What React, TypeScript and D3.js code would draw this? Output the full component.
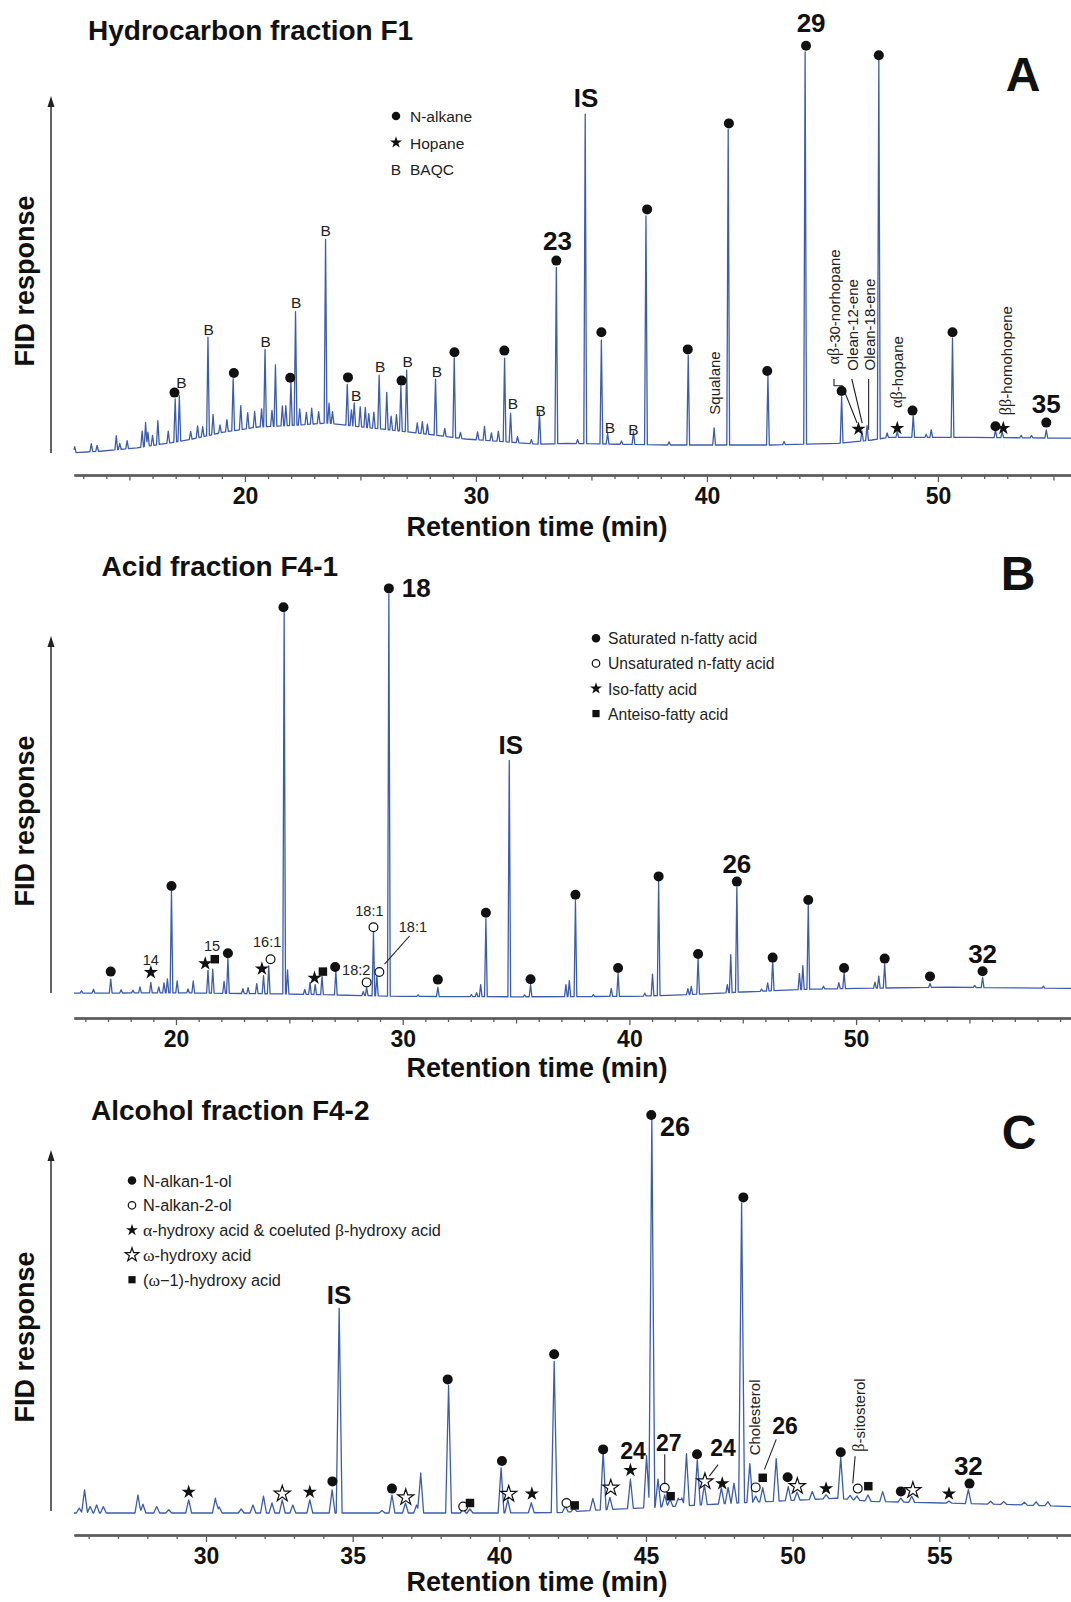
import React, { useEffect, useRef } from "react";
import * as d3 from "d3";

const W = 1071;
const H = 1602;
const SANS = "'Liberation Sans', Arial, Helvetica, sans-serif";
const SERIF = "'Liberation Serif', 'Times New Roman', serif";
const TRACE = "#3d5cab";
const AXIS = "#5c5c5c";

// ---------- A: hydrocarbon fraction F1 ----------
const aPeakTimes = [12.63, 13.35, 13.6, 14.43, 14.58, 14.9, 15.55, 15.7, 15.8, 16.0, 16.23, 16.68, 16.98, 17.16, 17.65, 17.95, 18.17, 18.4, 18.62, 18.92, 19.22, 19.49, 19.82, 20.12, 20.42, 20.72, 20.87, 21.17, 21.32, 21.62, 21.77, 21.99, 22.19, 22.37, 22.66, 22.89, 23.19, 23.49, 23.64, 23.79, 24.43, 24.61, 24.73, 24.99, 25.21, 25.36, 25.58, 25.81, 26.14, 26.33, 26.56, 26.75, 27.0, 27.46, 27.68, 27.9, 28.25, 28.65, 29.06, 29.33, 30.07, 30.37, 30.67, 30.97, 31.24, 31.5, 31.8, 32.4, 32.75, 33.48, 34.4, 34.73, 35.43, 35.7, 36.3, 36.82, 37.36, 38.36, 39.19, 40.31, 40.92, 42.64, 43.34, 44.25, 45.83, 46.71, 46.93, 47.44, 47.8, 48.24, 48.93, 49.49, 49.71, 50.63, 52.49, 52.78, 53.6, 54.05, 54.69];
const aPeakHeights = [1.5, 2, 1.5, 3.5, 1.5, 2, 4, 6, 3.5, 2.5, 6, 3, 10.8, 11.4, 2, 3, 2.5, 24.6, 5, 2, 3, 13, 6, 4, 4, 4.5, 19.3, 4, 15.3, 5, 5, 10.8, 28.4, 4, 3, 4, 3, 45.9, 5, 3, 10.2, 4, 5.8, 5, 5, 3.5, 4, 13.4, 9.3, 3.5, 4, 11.3, 15.4, 2.5, 3, 2.5, 14, 2, 19.9, 1.5, 2, 3.5, 2, 2.5, 20.9, 7.25, 1.5, 1, 7.9, 44.1, 1, 82.4, 26, 2.7, 0.8, 3.2, 57.2, 0.8, 22.4, 4.3, 78.9, 17.2, 0.8, 98.1, 11.6, 2.5, 3.7, 95, 1.2, 1.5, 5.4, 0.8, 1.9, 24.8, 2, 1.5, 0.6, 0.6, 2];
const aBaseTimes = [12.56, 13.83, 15.33, 16.83, 17.72, 19.07, 20.57, 22.07, 23.56, 25.06, 26.56, 28.05, 29.55, 31.05, 32.69, 33.97, 38.36, 42.75, 45.68, 47.14, 47.88, 51.54, 55.8];
const aBaseLevels = [0.55, 1.0, 1.8, 3.1, 4.0, 5.7, 7.0, 7.4, 8.0, 7.0, 6.1, 5.1, 4.0, 3.4, 2.7, 2.9, 2.5, 2.5, 2.9, 3.75, 4.4, 4.4, 4.2];
const aDots = [[16.95, 15.6], [19.52, 20.5], [21.96, 19.3], [24.46, 19.4], [26.78, 18.6], [29.07, 25.7], [31.23, 26.1], [33.48, 48.6], [35.43, 30.7], [37.41, 61.4], [39.17, 26.4], [40.95, 82.9], [42.61, 21], [44.29, 102.3], [45.83, 16], [47.44, 99.95], [48.9, 11.1], [50.63, 30.7], [52.49, 7.2], [54.69, 8.1]];
const aStars = [[46.56, 6.5], [48.24, 6.7], [52.83, 6.7]];
const aBaqc = [[17.25, 18.2], [18.43, 31.3], [20.9, 28.3], [22.22, 38.25], [23.49, 56.1], [24.81, 14.9], [25.85, 22.1], [27.04, 23.5], [28.31, 20.95], [31.6, 12.8], [32.8, 11.2], [35.8, 7], [36.82, 6.3]];
const aNumbers = [["23", 33.53, 53.4, 26], ["IS", 34.77, 89.2, 26], ["29", 44.51, 107.9, 26], ["35", 54.69, 12.8, 26]];
const aNames = [["Squalane", 40.31, 18], ["αβ-30-norhopane", 45.5, 37], ["Olean-12-ene", 46.27, 32.5], ["Olean-18-ene", 47.0, 32.6], ["αβ-hopane", 48.24, 20.75], ["ββ-homohopene", 52.93, 23.6]];
const aLeaders = [[[45.5, 19], [45.5, 17.3], [45.86, 17.3], [46.5, 8]], [[46.27, 19], [46.72, 8]], [[47.0, 19], [47.0, 6.3]]];
const aLegend = [["dot", "N-alkane"], ["star", "Hopane"], ["B", "BAQC"]];
const aTicks = [20, 30, 40, 50];

// ---------- B: acid fraction F4-1 ----------
const bPeakTimes = [15.83, 16.36, 17.12, 17.58, 18.1, 18.41, 18.89, 19.24, 19.47, 19.62, 19.8, 20.05, 20.53, 20.76, 21.41, 21.62, 22.12, 22.29, 22.95, 23.18, 23.56, 23.86, 24.09, 24.77, 24.92, 25.68, 25.91, 26.14, 26.44, 27.05, 28.26, 28.41, 28.71, 28.86, 29.39, 30.68, 31.55, 33.03, 33.26, 33.44, 33.67, 34.7, 35.38, 35.64, 37.2, 37.35, 37.62, 38.41, 39.2, 39.5, 40.68, 41.02, 41.29, 42.58, 42.73, 43.03, 44.32, 44.47, 44.74, 45.83, 46.1, 46.32, 47.5, 47.65, 47.89, 48.56, 49.24, 49.47, 50.83, 51.0, 51.26, 53.26, 55.23, 55.58, 58.26];
const bPeakHeights = [0.6, 1, 3.5, 0.8, 0.7, 1.5, 2.6, 1.5, 2.5, 3.5, 25.4, 3, 1, 3, 5.7, 6, 3, 8.7, 1.2, 1.5, 2.5, 4.5, 7, 95.3, 6, 1.2, 3, 2.5, 4.6, 6, 1, 2, 16, 5, 100.4, 0.4, 2.3, 0.5, 1, 3, 19.5, 59.1, 0.5, 3, 3, 4, 24, 0.5, 2, 5.8, 0.7, 5.4, 28.6, 1.5, 2, 8.9, 2, 9.5, 26.3, 0.5, 2, 7.6, 4, 6, 21, 0.7, 1.5, 4, 1.5, 3, 6, 1, 0.5, 2.5, 0.5];
const bBaseTimes = [15.5, 20, 25, 30, 35, 40, 42, 45, 48, 50, 54, 59.5];
const bBaseLevels = [1.2, 1.3, 1.0, 0.4, 0.3, 0.4, 0.7, 1.5, 2.2, 2.4, 2.7, 2.4];
const bDots = [[17.12, 6.6], [19.8, 28], [22.29, 11.2], [24.74, 97.7], [27.02, 7.75], [29.39, 102.4], [31.55, 4.6], [33.67, 21.3], [35.64, 4.7], [37.62, 25.8], [39.5, 7.5], [41.29, 30.4], [43.03, 11], [44.74, 29.1], [46.32, 10.1], [47.89, 24.5], [49.47, 7.5], [51.26, 9.85], [53.26, 5.4], [55.58, 6.7]];
const bOpen = [[24.17, 9.7], [28.41, 3.9], [28.71, 17.7], [28.97, 6.5]];
const bStars = [[18.89, 6.4], [21.29, 8.6], [23.79, 7.3], [26.11, 5]];
const bSquares = [[21.71, 9.7], [26.48, 6.6]];
const bSmallLabels = [["14", 18.89, 9.5], ["15", 21.59, 13.1], ["16:1", 24.02, 13.95], ["18:1", 28.53, 21.7], ["18:1", 30.45, 17.65], ["18:2", 27.95, 6.9]];
const bLeaders = [[[30.3, 15.5], [29.2, 8.45]]];
const bNumbers = [["18", 30.6, 102.4, 26], ["IS", 34.77, 63.3, 26], ["26", 44.74, 33.4, 26], ["32", 55.58, 11, 26]];
const bLegend = [["dot", "Saturated n-fatty acid"], ["open", "Unsaturated n-fatty acid"], ["star", "Iso-fatty acid"], ["square", "Anteiso-fatty acid"]];
const bTicks = [20, 30, 40, 50];

// ---------- C: alcohol fraction F4-2 ----------
const cPeakTimes = [25.68, 25.86, 26.05, 26.27, 26.5, 27.68, 27.85, 28.32, 28.73, 29.41, 30.32, 30.45, 31.2, 31.6, 31.96, 32.25, 32.6, 32.96, 33.54, 34.3, 34.54, 36.0, 36.34, 36.8, 37.18, 37.32, 38.27, 38.77, 39.0, 40.06, 40.29, 41.09, 41.87, 42.25, 42.54, 43.19, 43.54, 43.77, 44.47, 45.02, 45.2, 45.41, 45.64, 45.82, 46.1, 46.22, 46.38, 46.75, 46.99, 47.57, 47.8, 48.0, 48.26, 48.54, 48.74, 48.98, 49.44, 49.85, 50.15, 50.67, 51.14, 51.64, 51.96, 52.19, 52.57, 53.07, 53.69, 54.06, 55.33, 55.99, 56.75, 57.2, 57.9, 58.3, 58.7];
const cPeakHeights = [1.2, 5.8, 1.6, 2, 1.6, 4.5, 2.2, 1.6, 0.8, 3.3, 3.7, 1.5, 1, 2, 4.2, 2.5, 3.3, 2, 3.3, 5.8, 51.2, 0.6, 4.5, 2.5, 2, 10, 31.9, 1, 1, 11.3, 3.3, 2.5, 37.8, 1.5, 0.8, 3, 14.5, 3, 7.3, 13, 97, 7, 3, 1.8, 2, 2, 13, 11.3, 5, 4, 4, 5, 75, 9.7, 1.5, 3.5, 10.6, 3.5, 2, 2, 1, 10.2, 1, 1, 1.5, 2.5, 1, 1.5, 0.5, 3.5, 0.7, 0.7, 0.7, 0.9, 1];
const cBaseTimes = [25.5, 30, 35, 40, 42, 43.5, 45.8, 48.1, 50.4, 51.5, 52.7, 55.1, 57.5, 59.5];
const cBaseLevels = [0.5, 0.5, 0.5, 0.5, 0.6, 1.3, 2.1, 3.0, 3.8, 4.2, 3.4, 3.0, 2.6, 2.1];
const cDots = [[34.31, 8.4], [36.34, 6.6], [38.24, 33.9], [40.09, 13.5], [41.87, 40.2], [43.54, 16.4], [45.18, 100], [46.74, 15.2], [48.32, 79.4], [49.83, 9.45], [51.64, 15.7], [53.69, 5.9], [56.03, 7.85]];
const cOpen = [[38.77, 2.1], [42.29, 3.0], [45.64, 6.8], [48.74, 6.9], [52.22, 6.6]];
const cStars = [[29.41, 5.75], [33.54, 5.75], [41.11, 5.3], [44.47, 11.2], [47.6, 7.85], [51.14, 6.6], [55.33, 5.3]];
const cOpenStars = [[32.6, 5.3], [36.81, 4.4], [40.32, 5.25], [43.8, 6.8], [47.01, 8.4], [50.16, 7.2], [54.1, 6.2]];
const cSquares = [[39.0, 3.0], [42.57, 2.4], [45.84, 4.7], [48.98, 9.3], [52.58, 7.2]];
const cNumbers = [["IS", 34.54, 55, 26], ["26", 45.99, 97, 27], ["24", 44.56, 16, 23], ["27", 45.78, 18.1, 23], ["24", 47.63, 16.8, 23], ["26", 49.74, 22.3, 23], ["32", 55.99, 12.2, 26]];
const cNames = [["Cholesterol", 48.68, 24.4], ["β-sitosterol", 52.25, 25]];
const cLeaders = [[[45.64, 15.2], [45.64, 8.0]], [[47.46, 12.6], [47.16, 9.7]], [[49.44, 18.9], [49.04, 11.4]], [[52.13, 14.7], [52.05, 7.9]]];
const cLegend = [["dot", "N-alkan-1-ol"], ["open", "N-alkan-2-ol"], ["star", "α-hydroxy acid & coeluted β-hydroxy acid"], ["openStar", "ω-hydroxy acid"], ["square", "(ω−1)-hydroxy acid"]];
const cTicks = [30, 35, 40, 45, 50, 55];

const panels = [
  {
    title: "Hydrocarbon fraction F1", titleX: 88, titleY: 30, letter: "A", letterX: 1023, letterY: 74,
    xDomain: [12.6, 55.76], zeroY: 455, axisY: 475, arrowTop: 96, arrowBottom: 453, fidY: 281, xTitleY: 527,
    ticks: aTicks, midTicks: [15, 25, 35, 45, 55], w: 0.06,
    peakT: aPeakTimes, peakH: aPeakHeights, baseT: aBaseTimes, baseV: aBaseLevels,
    marks: [["dot", aDots], ["star", aStars], ["B", aBaqc]],
    numbers: aNumbers, names: aNames, leaders: aLeaders, small: [],
    legend: aLegend, legendX: 396, legendTextX: 410, legendY: 116, legendStep: 26.5, legendFont: 15.5,
  },
  {
    title: "Acid fraction F4-1", titleX: 101.6, titleY: 566, letter: "B", letterX: 1018, letterY: 573,
    xDomain: [15.5, 59.48], zeroY: 998, axisY: 1018, arrowTop: 636, arrowBottom: 993, fidY: 821, xTitleY: 1068,
    ticks: bTicks, midTicks: [25, 35, 45, 55], w: 0.06,
    peakT: bPeakTimes, peakH: bPeakHeights, baseT: bBaseTimes, baseV: bBaseLevels,
    marks: [["dot", bDots], ["open", bOpen], ["star", bStars], ["square", bSquares]],
    numbers: bNumbers, names: [], leaders: bLeaders, small: bSmallLabels,
    legend: bLegend, legendX: 596, legendTextX: 608, legendY: 638.3, legendStep: 25.1, legendFont: 15.7,
  },
  {
    title: "Alcohol fraction F4-2", titleX: 91, titleY: 1110, letter: "C", letterX: 1019, letterY: 1132,
    xDomain: [25.5, 59.49], zeroY: 1515, axisY: 1535, arrowTop: 1150, arrowBottom: 1511, fidY: 1337, xTitleY: 1582,
    ticks: cTicks, midTicks: [], w: 0.1,
    peakT: cPeakTimes, peakH: cPeakHeights, baseT: cBaseTimes, baseV: cBaseLevels,
    marks: [["dot", cDots], ["open", cOpen], ["star", cStars], ["openStar", cOpenStars], ["square", cSquares]],
    numbers: cNumbers, names: cNames, leaders: cLeaders, small: [],
    legend: cLegend, legendX: 132, legendTextX: 143, legendY: 1180.5, legendStep: 24.8, legendFont: 16.3,
  },
];

// baseline + triangular peaks, evaluated at every breakpoint
function peakTrace(times: number[], heights: number[], baseT: number[], baseV: number[], w: number, lo: number, hi: number) {
  const base = d3.scaleLinear().domain(baseT).range(baseV).clamp(true);
  const keys = [lo, hi, ...baseT];
  times.forEach((t) => keys.push(t - w, t, t + w));
  const ts = Array.from(new Set(keys)).filter((t) => t >= lo && t <= hi).sort((a, b) => a - b);
  return ts.map((t) => [t, base(t) + d3.sum(times, (p, i) => heights[i] * Math.max(0, 1 - Math.abs(t - p) / w))]);
}

function richText(sel: any, str: string, size: number) {
  str.split(/([αβω]+)/).filter((s) => s).forEach((s) => {
    const greek = /[αβω]/.test(s);
    sel.append("tspan")
      .attr("font-family", greek ? SERIF : SANS)
      .attr("font-size", greek ? size * 1.08 : size)
      .text(s);
  });
}

function drawMark(g: any, kind: string, cx: number, cy: number, legend = false) {
  const k = legend ? 0.85 : 1;
  if (kind === "dot") {
    g.append("circle").attr("cx", cx).attr("cy", cy).attr("r", 5 * k).attr("fill", "#111");
  } else if (kind === "open") {
    g.append("circle").attr("cx", cx).attr("cy", cy).attr("r", 4.4 * k).attr("fill", "#fff").attr("stroke", "#111").attr("stroke-width", 1.2);
  } else if (kind === "star") {
    g.append("path").attr("d", d3.symbol(d3.symbolStar, 62 * k * k)()).attr("transform", `translate(${cx},${cy})`).attr("fill", "#111");
  } else if (kind === "openStar") {
    g.append("path").attr("d", d3.symbol(d3.symbolStar, 80 * k * k)()).attr("transform", `translate(${cx},${cy})`)
      .attr("fill", "#fff").attr("stroke", "#111").attr("stroke-width", 1.2);
  } else if (kind === "square") {
    g.append("path").attr("d", d3.symbol(d3.symbolSquare, 72 * k * k)()).attr("transform", `translate(${cx},${cy})`).attr("fill", "#111");
  } else if (kind === "B") {
    g.append("text").attr("x", cx).attr("y", cy).attr("text-anchor", "middle").attr("dominant-baseline", "central")
      .attr("font-family", SANS).attr("font-size", 15.5).attr("fill", "#222").text("B");
  }
}

function drawPanel(svg: any, p: any) {
  const x = d3.scaleLinear().domain(p.xDomain).range([74, W]);
  const y = d3.scaleLinear().domain([0, 100]).range([p.zeroY, p.zeroY - 400]);
  const g = svg.append("g");

  // title and panel letter
  g.append("text").attr("x", p.titleX).attr("y", p.titleY).attr("dominant-baseline", "central")
    .attr("font-family", SANS).attr("font-weight", "bold").attr("font-size", 28).attr("fill", "#111").text(p.title);
  g.append("text").attr("x", p.letterX).attr("y", p.letterY).attr("text-anchor", "middle").attr("dominant-baseline", "central")
    .attr("font-family", SANS).attr("font-weight", "bold").attr("font-size", 48).attr("fill", "#111").text(p.letter);

  // y arrow
  g.append("line").attr("x1", 51).attr("x2", 51).attr("y1", p.arrowBottom).attr("y2", p.arrowTop + 8)
    .attr("stroke", "#222").attr("stroke-width", 1.4);
  g.append("path").attr("d", `M47.5,${p.arrowTop + 11}L51,${p.arrowTop}L54.5,${p.arrowTop + 11}Z`).attr("fill", "#222");
  g.append("text").attr("transform", `translate(25,${p.fidY}) rotate(-90)`).attr("text-anchor", "middle")
    .attr("dominant-baseline", "central").attr("font-family", SANS).attr("font-weight", "bold").attr("font-size", 27)
    .attr("fill", "#111").text("FID response");

  // x axis
  const lo = Math.ceil(p.xDomain[0]);
  const hi = Math.floor(p.xDomain[1]);
  const minor = d3.range(lo, hi + 1).filter((t) => !p.ticks.includes(t) && !p.midTicks.includes(t));
  const ax = g.append("g").attr("transform", `translate(0,${p.axisY})`);
  ax.append("g").call(d3.axisBottom(x).tickValues(minor).tickSize(4).tickSizeOuter(0).tickFormat(() => ""));
  ax.append("g").call(d3.axisBottom(x).tickValues(p.midTicks).tickSize(5.5).tickSizeOuter(0).tickFormat(() => ""));
  const major = ax.append("g").call(d3.axisBottom(x).tickValues(p.ticks).tickSize(7).tickSizeOuter(0).tickPadding(6).tickFormat(d3.format("d")));
  ax.selectAll(".domain").attr("stroke", AXIS).attr("stroke-width", 2);
  ax.selectAll(".tick line").attr("stroke", AXIS).attr("stroke-width", 1.3);
  major.selectAll(".tick text").attr("font-family", SANS).attr("font-weight", "bold").attr("font-size", 23).attr("fill", "#111");
  g.append("text").attr("x", 537).attr("y", p.xTitleY).attr("text-anchor", "middle").attr("dominant-baseline", "central")
    .attr("font-family", SANS).attr("font-weight", "bold").attr("font-size", 27).attr("fill", "#111").text("Retention time (min)");

  // chromatogram trace
  const pts = peakTrace(p.peakT, p.peakH, p.baseT, p.baseV, p.w, p.xDomain[0], p.xDomain[1]);
  const line = d3.line().x((d: any) => x(d[0])).y((d: any) => y(d[1]));
  g.append("path").attr("d", line(pts as any)).attr("fill", "none").attr("stroke", TRACE)
    .attr("stroke-width", 1.3).attr("stroke-linejoin", "round");

  // leaders
  p.leaders.forEach((l: number[][]) => {
    g.append("path").attr("d", line(l as any)).attr("fill", "none").attr("stroke", "#222").attr("stroke-width", 1.1);
  });

  // peak markers
  p.marks.forEach(([kind, list]: any) => {
    list.forEach((d: number[]) => drawMark(g, kind, x(d[0]), y(d[1])));
  });

  // bold numbers
  p.numbers.forEach(([txt, t, v, fs]: any) => {
    g.append("text").attr("x", x(t)).attr("y", y(v)).attr("text-anchor", "middle").attr("dominant-baseline", "central")
      .attr("font-family", SANS).attr("font-weight", "bold").attr("font-size", fs).attr("fill", "#111").text(txt);
  });

  // small labels
  p.small.forEach(([txt, t, v]: any) => {
    g.append("text").attr("x", x(t)).attr("y", y(v)).attr("text-anchor", "middle").attr("dominant-baseline", "central")
      .attr("font-family", SANS).attr("font-size", 14.5).attr("fill", "#222").text(txt);
  });

  // rotated compound names
  p.names.forEach(([txt, t, v]: any) => {
    const tx = g.append("text").attr("transform", `translate(${x(t)},${y(v)}) rotate(-90)`).attr("text-anchor", "middle")
      .attr("dominant-baseline", "central").attr("fill", "#222");
    richText(tx, txt, 15);
  });

  // legend
  p.legend.forEach(([kind, txt]: any, i: number) => {
    const ly = p.legendY + i * p.legendStep;
    drawMark(g, kind, p.legendX, ly, true);
    const tx = g.append("text").attr("x", p.legendTextX).attr("y", ly).attr("dominant-baseline", "central").attr("fill", "#222");
    richText(tx, txt, p.legendFont);
  });
}

export default function App() {
  const ref = useRef<SVGSVGElement>(null);
  useEffect(() => {
    const svg = d3.select(ref.current);
    svg.selectAll("*").remove();
    panels.forEach((p) => drawPanel(svg, p));
  }, []);
  return (
    <svg ref={ref} width={W} height={H} style={{ position: "absolute", left: 0, top: 0, background: "#fff" }} />
  );
}
